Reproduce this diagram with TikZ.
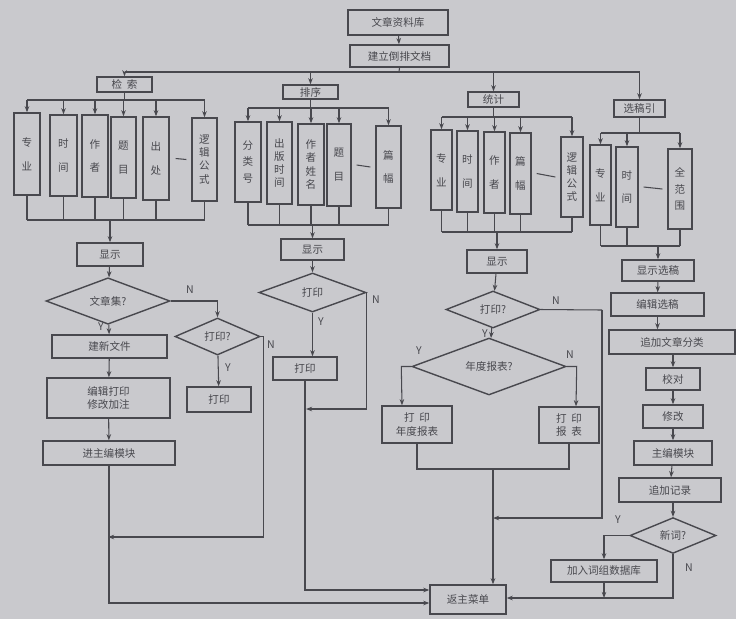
\documentclass[tikz,border=0pt]{standalone}
\usepackage{fontspec}
\setmainfont{Noto Sans CJK SC}
\usetikzlibrary{shapes.geometric,arrows.meta,calc}
\definecolor{bg}{RGB}{201,201,205}
\definecolor{ink}{RGB}{72,72,78}
\newcommand\bx[7][box]{\node[#1, minimum width={(#5-#3)*0.02cm}, minimum height={(#6-#4)*0.02cm}] (#2) at ({(#3+#5)/2},{(#4+#6)/2}) {#7};}
\begin{document}
\begin{tikzpicture}[x=0.02cm,y=-0.02cm,
  every node/.style={font=\fontsize{6}{7.5}\selectfont, text=ink},
  box/.style={draw=ink, line width=0.8pt, fill=bg, inner sep=0pt, align=center},
  tall/.style={box, font=\fontsize{6}{7.5}\selectfont},
  dia/.style={draw=ink, line width=0.8pt, fill=bg, diamond, inner sep=0pt, align=center},
  lbl/.style={font=\fontsize{6}{7}\selectfont, inner sep=0pt},
  ln/.style={draw=ink, line width=0.6pt},
  arr/.style={ln, -{Stealth[length=3.5pt,width=2.6pt]}}]
\path[fill=bg] (0,0) rectangle (736,619);
% top
\bx{lib}{348}{10}{448}{35}{文章资料库}
\bx{inv}{350}{45}{449}{67}{建立倒排文档}
\bx{js}{97}{77}{152}{92}{检\ \ 索}
\bx{px}{283}{85}{338}{99}{排序}
\bx{tj}{468}{92}{519}{107}{统计}
\bx{xg}{614}{100}{665}{117}{选稿引}
\draw[arr] (lib) -- (inv);
\coordinate (t) at (399,72);
\draw[ln] (inv.south) -- (t);
\draw[ln] (js.north |- t) -- (xg.north |- t);
\foreach \n in {js,px,tj,xg} \draw[arr] (\n.north |- t) -- (\n.north);
% retrieval children
\bx[tall]{a1}{14}{113}{40}{195}{专\\[6pt]业}
\bx[tall]{a2}{50}{115}{77}{196}{时\\[6pt]间}
\bx[tall]{a3}{82}{115}{108}{197}{作\\[6pt]者}
\bx[tall]{a4}{111}{117}{136}{198}{题\\[6pt]目}
\bx[tall]{a5}{143}{117}{169}{200}{出\\[6pt]处}
\bx[tall]{a6}{192}{118}{217}{201}{逻\\辑\\公\\式}
% sort children
\bx[tall]{b1}{235}{122}{261}{202}{分\\[2pt]类\\[2pt]号}
\bx[tall]{b2}{267}{122}{292}{204}{出\\版\\时\\间}
\bx[tall]{b3}{298}{124}{324}{205}{作\\者\\姓\\名}
\bx[tall]{b4}{327}{124}{351}{206}{题\\[6pt]目}
\bx[tall]{b5}{376}{126}{401}{208}{篇\\[6pt]幅}
% statistics children
\bx[tall]{c1}{431}{130}{452}{210}{专\\[6pt]业}
\bx[tall]{c2}{457}{131}{478}{212}{时\\[6pt]间}
\bx[tall]{c3}{484}{132}{505}{213}{作\\[6pt]者}
\bx[tall]{c4}{510}{133}{531}{214}{篇\\[6pt]幅}
\bx[tall]{c5}{561}{137}{583}{217}{逻\\辑\\公\\式}
% selection children
\bx[tall]{e1}{590}{145}{611}{225}{专\\[6pt]业}
\bx[tall]{e2}{616}{147}{638}{227}{时\\[6pt]间}
\bx[tall]{e3}{668}{149}{692}{229}{全\\[2pt]范\\[2pt]围}
% buses
\coordinate (ta) at (0,100); \coordinate (tb) at (0,108);
\coordinate (tc) at (0,117); \coordinate (te) at (0,133);
\coordinate (ba) at (0,220); \coordinate (bb) at (0,225);
\coordinate (bc) at (0,232); \coordinate (be) at (0,246);
\draw[ln] (js.south) -- (js.south |- ta);
\draw[ln] (a1.north |- ta) -- (a6.north |- ta);
\foreach \n in {a1,a2,a3,a4,a5,a6} {\draw[arr] (\n.north |- ta) -- (\n.north); \draw[ln] (\n.south) -- (\n.south |- ba);}
\draw[ln] (a1.south |- ba) -- (a6.south |- ba);
\draw[ln] (px.south) -- (px.south |- tb);
\draw[ln] (b1.north |- tb) -- (b5.north |- tb);
\foreach \n in {b1,b2,b3,b4,b5} {\draw[arr] (\n.north |- tb) -- (\n.north); \draw[ln] (\n.south) -- (\n.south |- bb);}
\draw[ln] (b1.south |- bb) -- (b5.south |- bb);
\draw[ln] (tj.south) -- (tj.south |- tc);
\draw[ln] (c1.north |- tc) -- (c5.north |- tc);
\foreach \n in {c1,c2,c3,c4,c5} {\draw[arr] (\n.north |- tc) -- (\n.north); \draw[ln] (\n.south) -- (\n.south |- bc);}
\draw[ln] (c1.south |- bc) -- (c5.south |- bc);
\draw[ln] (xg.south) -- (xg.south |- te);
\draw[ln] (e1.north |- te) -- (e3.north |- te);
\foreach \n in {e1,e2,e3} {\draw[arr] (\n.north |- te) -- (\n.north); \draw[ln] (\n.south) -- (\n.south |- be);}
\draw[ln] (e1.south |- be) -- (e3.south |- be);
% dashes
\draw[ln] ($(a5.east)+(6,0)$) -- ($(a6.west)+(-5,0)$);
\draw[ln] ($(b4.east)+(5,0)$) -- ($(b5.west)+(-5,0)$);
\draw[ln] ($(c4.east)+(5,0)$) -- ($(c5.west)+(-5,0)$);
\draw[ln] ($(e2.east)+(5,0)$) -- ($(e3.west)+(-5,0)$);
% left column
\bx{s1}{77}{243}{143}{266}{显示}
\bx[dia]{d1}{46}{282}{170}{320}{文章集?}
\bx[dia]{d2}{175}{318}{260}{355}{打印?}
\bx{n1}{52}{335}{167}{358}{建新文件}
\bx{n2}{47}{378}{170}{418}{编辑打印\\修改加注}
\bx{n3}{43}{441}{175}{465}{进主编模块}
\bx{p1}{187}{387}{251}{412}{打印}
% sort column
\bx{s2}{281}{239}{344}{260}{显示}
\bx[dia]{d3}{259}{273}{366}{312}{打印}
\bx{p2}{273}{357}{337}{380}{打印}
% statistics column
\bx{s3}{467}{250}{527}{273}{显示}
\bx[dia]{d4}{446}{291}{540}{328}{打印?}
\bx[dia]{d5}{412}{348}{566}{385}{年度报表?}
\bx{p3}{382}{406}{452}{443}{打\ \ 印\\年度报表}
\bx{p4}{539}{407}{599}{443}{打\ \ 印\\报\ \ 表}
% selection column
\bx{f1}{622}{260}{694}{281}{显示选稿}
\bx{f2}{611}{293}{704}{316}{编辑选稿}
\bx{f3}{609}{330}{735}{354}{追加文章分类}
\bx{f4}{646}{368}{700}{390}{校对}
\bx{f5}{643}{405}{703}{428}{修改}
\bx{f6}{634}{441}{712}{465}{主编模块}
\bx{f7}{619}{478}{721}{502}{追加记录}
\bx[dia]{d6}{630}{518}{716}{553}{新词?}
\bx{f8}{551}{560}{657}{582}{加入词组数据库}
\bx{back}{430}{585}{506}{614}{返主菜单}
% bottom buses to display boxes
\draw[arr] (s1.north |- ba) -- (s1.north);
\draw[arr] (s2.north |- bb) -- (s2.north);
\draw[arr] (s3.north |- bc) -- (s3.north);
\draw[arr] (f1.north |- be) -- (f1.north);
% levels into back
\coordinate (ya) at (0,590); \coordinate (yb) at (0,598); \coordinate (yc) at (0,603);
% left column flow
\draw[arr] (s1) -- (d1);
\draw[arr] (d1) -- (n1);
\node[lbl] at (101,327) {Y};
\draw[arr] (d1.east) -| (d2.north);
\node[lbl] at (190,290) {N};
\draw[arr] (d2) -- (p1);
\node[lbl] at (228,368) {Y};
\draw[arr] (n1) -- (n2);
\draw[arr] (n2) -- (n3);
\coordinate (m1) at (108,537);
\draw[arr] (d2.east) -- ++(3,0) |- (m1);
\node[lbl] at (271,345) {N};
\draw[arr] (n3.south) |- (back.west |- yc);
% sort column flow
\draw[arr] (s2) -- (d3);
\draw[arr] (d3.south) -- (p2.north -| d3.south);
\node[lbl] at (321,322) {Y};
\coordinate (m2) at (306,409);
\draw[arr] (d3.east) |- (m2);
\node[lbl] at (376,300) {N};
\draw[arr] (p2.south) |- (back.west |- ya);
% statistics column flow
\draw[arr] (s3) -- (d4);
\draw[arr] (d4) -- (d5);
\node[lbl] at (485,334) {Y};
\draw[ln] (d4.east) -- (602,310);
\coordinate (m3) at (493,518);
\draw[arr] (602,310) |- (m3);
\node[lbl] at (556,301) {N};
\draw[arr] (d5.west) -- ++(-10,0) -- (p3.north -| 402,0);
\node[lbl] at (419,351) {Y};
\draw[arr] (d5.east) -- ++(10,0) -- (p4.north -| 576,0);
\node[lbl] at (570,355) {N};
\coordinate (m4) at (493,469);
\draw[ln] (p3.south) |- (m4);
\draw[ln] (p4.south) |- (m4);
\draw[arr] (m4) -- (back.north -| m4);
% selection column flow
\draw[arr] (f1) -- (f2);
\draw[arr] (f2.south) -- (f3.north -| f2.south);
\draw[arr] (f3.south -| f4.north) -- (f4.north);
\draw[arr] (f4) -- (f5);
\draw[arr] (f5) -- (f6);
\draw[arr] (f6) -- (f7);
\draw[arr] (f7.south -| d6.north) -- (d6.north);
\draw[arr] (d6.west) -| (f8.north);
\node[lbl] at (618,520) {Y};
\draw[arr] (d6.south) |- (back.east |- yb);
\node[lbl] at (689,568) {N};
\draw[arr] (f8.south) -- (f8.south |- yb);
\end{tikzpicture}
\end{document}
